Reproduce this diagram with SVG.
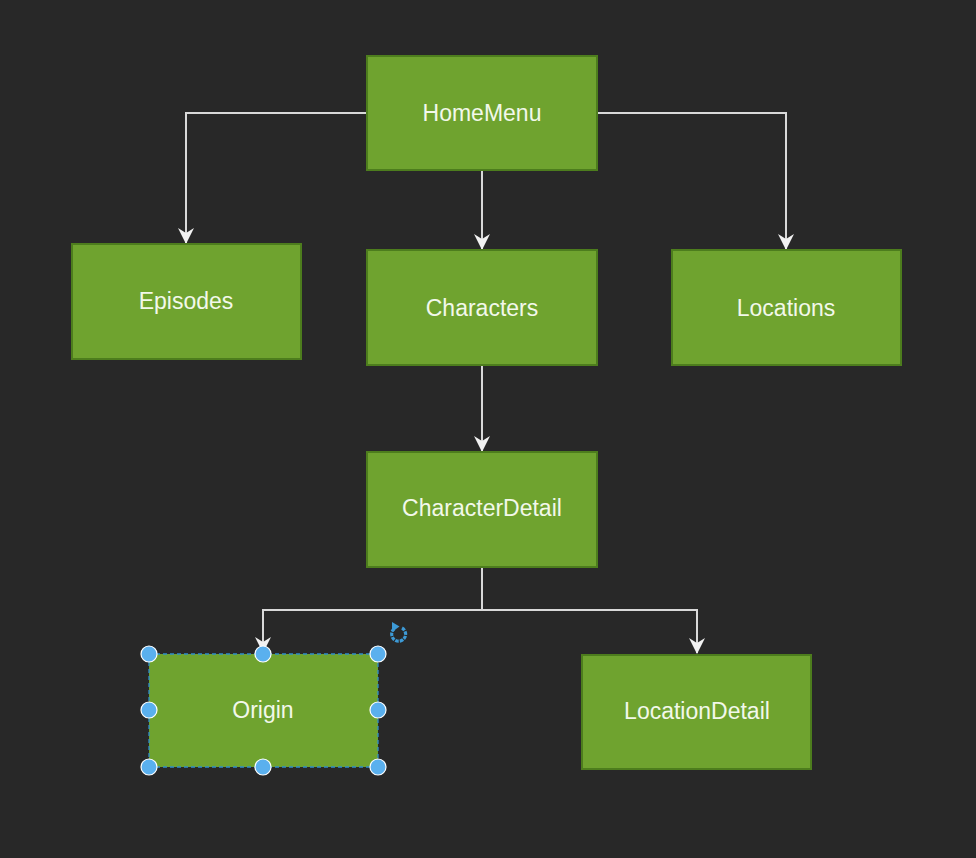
<svg xmlns="http://www.w3.org/2000/svg" width="976" height="858" viewBox="0 0 976 858">
<defs>
<style>
.box{fill:#6fa32f;stroke:#4d7d1d;stroke-width:2}
.lbl{font-family:"Liberation Sans",Arial,sans-serif;font-size:23px;fill:#f2f8ea;text-anchor:middle}
.edge{fill:none;stroke:#d9d9d9;stroke-width:2}
.handle{fill:#5ab0ee;stroke:#ffffff;stroke-width:1.2}
</style>
<marker id="arr" viewBox="0 0 16 16" refX="15" refY="8" markerWidth="16" markerHeight="16" markerUnits="userSpaceOnUse" orient="auto">
<path d="M0,0 L16,8 L0,16 L5,8 Z" fill="#f2f2f2"/>
</marker>
</defs>
<rect width="976" height="858" fill="#282828"/>
<g id="connectors">
<path class="edge" d="M367,113 H186 V243" marker-end="url(#arr)"/>
<path class="edge" d="M597,113 H786 V249" marker-end="url(#arr)"/>
<path class="edge" d="M482,171 V249" marker-end="url(#arr)"/>
<path class="edge" d="M482,365 V451" marker-end="url(#arr)"/>
<path class="edge" d="M482,568 V610 H263 V652" marker-end="url(#arr)"/>
<path class="edge" d="M482,610 H697 V653" marker-end="url(#arr)"/>
</g>
<g id="node-homemenu">
<rect class="box" x="367" y="56" width="230" height="114"/>
<text class="lbl" x="482" y="121">HomeMenu</text>
</g>
<g id="node-episodes">
<rect class="box" x="72" y="244" width="229" height="115"/>
<text class="lbl" x="186" y="309">Episodes</text>
</g>
<g id="node-characters">
<rect class="box" x="367" y="250" width="230" height="115"/>
<text class="lbl" x="482" y="316">Characters</text>
</g>
<g id="node-locations">
<rect class="box" x="672" y="250" width="229" height="115"/>
<text class="lbl" x="786" y="316">Locations</text>
</g>
<g id="node-characterdetail">
<rect class="box" x="367" y="452" width="230" height="115"/>
<text class="lbl" x="482" y="516">CharacterDetail</text>
</g>
<g id="node-origin">
<rect x="149" y="654" width="229" height="113" fill="#6fa32f"/>
<rect x="149" y="654" width="229" height="113" fill="none" stroke="#2f8fc8" stroke-width="1.3" stroke-dasharray="4 3"/>
<text class="lbl" x="263" y="718">Origin</text>
<circle class="handle" cx="149" cy="654" r="8"/>
<circle class="handle" cx="263" cy="654" r="8"/>
<circle class="handle" cx="378" cy="654" r="8"/>
<circle class="handle" cx="149" cy="710" r="8"/>
<circle class="handle" cx="378" cy="710" r="8"/>
<circle class="handle" cx="149" cy="767" r="8"/>
<circle class="handle" cx="263" cy="767" r="8"/>
<circle class="handle" cx="378" cy="767" r="8"/>
<path d="M402,628 A7,7 0 1 1 394.5,628.5" fill="none" stroke="#3d9ad6" stroke-width="3.2" stroke-dasharray="3.5 1"/>
<path d="M392,622 L399.5,626.5 L392,632 Z" fill="#3d9ad6"/>
</g>
<g id="node-locationdetail">
<rect class="box" x="582" y="655" width="229" height="114"/>
<text class="lbl" x="697" y="719">LocationDetail</text>
</g>
</svg>
